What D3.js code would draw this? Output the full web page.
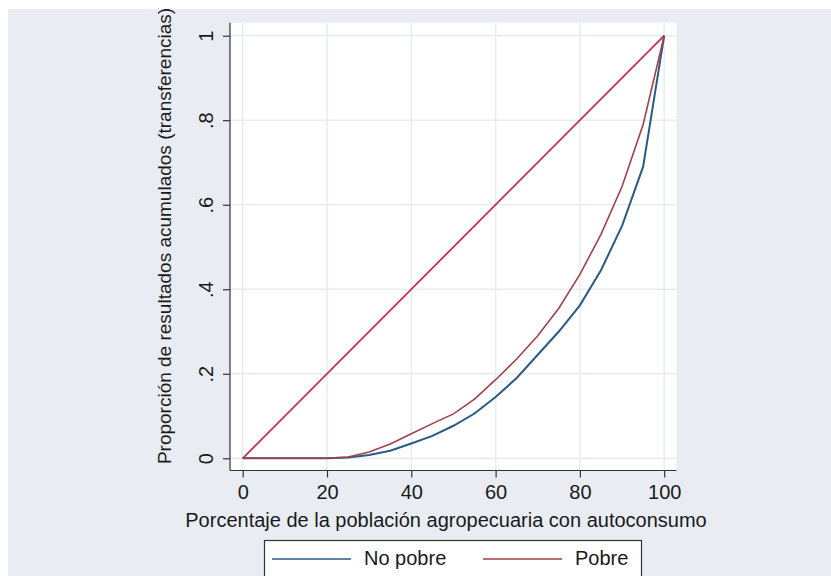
<!DOCTYPE html>
<html><head><meta charset="utf-8">
<script src="https://cdn.jsdelivr.net/npm/d3@7"></script>
<style>
html,body{margin:0;padding:0;background:#fff;}
svg{display:block;}
text{font-family:"Liberation Sans",Arial,sans-serif;fill:#1a1a1a;}
</style></head>
<body>
<svg id="c" width="831" height="576"></svg>
<script>
const pct = [0,5,10,15,20,25,30,35,40,45,50,55,60,65,70,75,80,85,90,95,100];
const noPobre = [0,0,0,0,0,0.002,0.008,0.018,0.035,0.053,0.077,0.106,0.145,0.19,0.245,0.30,0.362,0.445,0.55,0.69,1];
const pobre   = [0,0,0,0,0,0.003,0.015,0.034,0.058,0.082,0.105,0.14,0.186,0.235,0.29,0.355,0.435,0.53,0.643,0.79,1];
const equality = [0,1];
const equalityX = [0,100];
const xTicks = [0,20,40,60,80,100];
const yTicks = [0,0.2,0.4,0.6,0.8,1];
const yTickLabels = ["0",".2",".4",".6",".8","1"];
const seriesNames = ["No pobre","Pobre"];
const xTitle = "Porcentaje de la población agropecuaria con autoconsumo";
const yTitle = "Proporción de resultados acumulados (transferencias)";

const FS = 20;
const svg = d3.select("#c");
svg.append("rect").attr("x",8).attr("y",9).attr("width",823).attr("height",567).attr("fill","#e9edf3");

const x = d3.scaleLinear().domain([0,100]).range([242.7,664.2]);
const y = d3.scaleLinear().domain([0,1]).range([458.3,35.7]);
const x0 = x.invert(230), x1 = x.invert(676.5), yb = y.invert(470.5), yt = y.invert(22.7);

svg.append("rect").attr("x",x(x0)).attr("y",y(yt)).attr("width",x(x1)-x(x0)).attr("height",y(yb)-y(yt)).attr("fill","#ffffff");

const g = svg.append("g");
g.selectAll(".gx").data(xTicks).join("line")
  .attr("x1",d=>x(d)).attr("x2",d=>x(d)).attr("y1",y(yt)).attr("y2",y(yb))
  .attr("stroke","#e6edf1").attr("stroke-width",1.5);
g.selectAll(".gy").data(yTicks).join("line")
  .attr("y1",d=>y(d)).attr("y2",d=>y(d)).attr("x1",x(x0)).attr("x2",x(x1))
  .attr("stroke","#e6edf1").attr("stroke-width",1.5);

const xAxis = d3.axisBottom(x).tickValues(xTicks).tickSize(7).tickFormat(d3.format("d"));
const gx = svg.append("g").attr("transform",`translate(0,${y(yb)})`).call(xAxis);
gx.select(".domain").attr("d",`M${x(x0)},0H${x(x1)}`).attr("stroke","#333").attr("stroke-width",1.2);
gx.selectAll(".tick line").attr("stroke","#333").attr("stroke-width",1.2);
gx.selectAll(".tick text").attr("font-size",FS).attr("fill","#1a1a1a").attr("font-family","Liberation Sans, Arial, sans-serif")
  .attr("y",28.5).attr("dy",null);

const yAxis = d3.axisLeft(y).tickValues(yTicks).tickSize(7).tickFormat((d,i)=>yTickLabels[i]);
const gy = svg.append("g").attr("transform",`translate(${x(x0)},0)`).call(yAxis);
gy.select(".domain").attr("d",`M0,${y(yt)}V${y(yb)}`).attr("stroke","#333").attr("stroke-width",1.2);
gy.selectAll(".tick line").attr("stroke","#333").attr("stroke-width",1.2);
gy.selectAll(".tick text").attr("font-size",FS).attr("fill","#1a1a1a").attr("font-family","Liberation Sans, Arial, sans-serif")
  .attr("x",null).attr("dy",null).attr("text-anchor","middle")
  .attr("transform","translate(-17,0) rotate(-90)");

const lineGen = d3.line().x(d=>x(d[0])).y(d=>y(d[1]));
svg.append("path").datum(equalityX.map((v,i)=>[v,equality[i]])).attr("d",lineGen)
  .attr("fill","none").attr("stroke","#c9304f").attr("stroke-width",1.8);
svg.append("path").datum(pct.map((v,i)=>[v,noPobre[i]])).attr("d",lineGen)
  .attr("fill","none").attr("stroke","#2b5a86").attr("stroke-width",2);
svg.append("path").datum(pct.map((v,i)=>[v,pobre[i]])).attr("d",lineGen)
  .attr("fill","none").attr("stroke","#a3404a").attr("stroke-width",1.6);

svg.append("text").attr("x",446).attr("y",527).attr("text-anchor","middle").attr("font-size",FS).text(xTitle);
svg.append("text").attr("transform","translate(171,236) rotate(-90)").attr("text-anchor","middle").attr("font-size",19).text(yTitle);

const lg = svg.append("g");
lg.append("rect").attr("x",264.5).attr("y",540.5).attr("width",377).attr("height",60).attr("fill","#fff").attr("stroke","#333").attr("stroke-width",1.2);
const legColors = ["#2b5a86","#a3404a"];
const legX = [272,483];
seriesNames.forEach((n,i)=>{
  lg.append("line").attr("x1",legX[i]).attr("x2",legX[i]+79).attr("y1",559).attr("y2",559).attr("stroke",legColors[i]).attr("stroke-width",1.6);
  lg.append("text").attr("x",legX[i]+92).attr("y",565).attr("font-size",FS).text(n);
});
</script>
</body></html>
